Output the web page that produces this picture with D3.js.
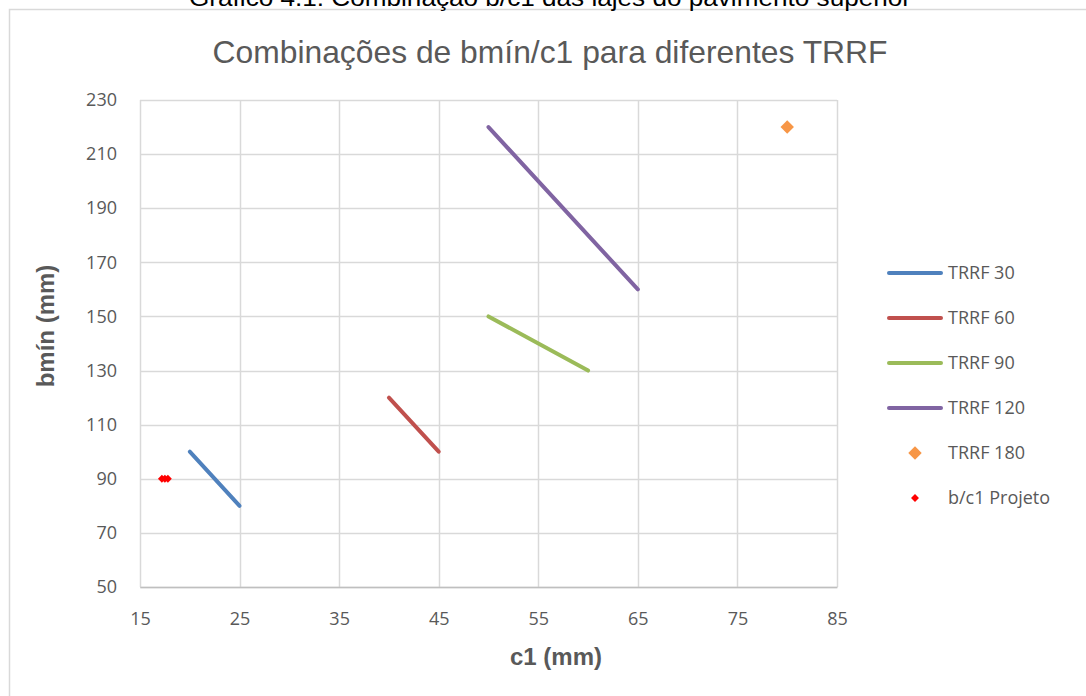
<!DOCTYPE html>
<html><head><meta charset="utf-8">
<script src="https://cdn.jsdelivr.net/npm/d3@7"></script>
<style>body{margin:0;background:#fff;}svg{display:block;}</style>
</head><body>
<svg id="c" width="1086" height="696"></svg>
<script>
const xTicks = [15,25,35,45,55,65,75,85];
const yTicks = [50,70,90,110,130,150,170,190,210,230];
const lineSeries = [
  {name:"TRRF 30", color:"#4f81bd", pts:[[20,100],[25,80]]},
  {name:"TRRF 60", color:"#c0504d", pts:[[40,120],[45,100]]},
  {name:"TRRF 90", color:"#9bbb59", pts:[[50,150],[60,130]]},
  {name:"TRRF 120", color:"#8064a2", pts:[[50,220],[65,160]]}
];
const trrf180 = [[80,220]];
const projeto = [[17.2,90],[17.5,90],[17.8,90]];
const legendNames = ["TRRF 30","TRRF 60","TRRF 90","TRRF 120","TRRF 180","b/c1 Projeto"];

const svg = d3.select("#c");
const grey = "#595959";
// outer chart border
svg.append("rect").attr("x",9.5).attr("y",9.5).attr("width",1100).attr("height",700)
  .attr("fill","#fff").attr("stroke","#d9d9d9").attr("stroke-width",1.5);
// caption (cut off at top)
svg.append("text").attr("x",550).attr("y",6).attr("text-anchor","middle")
  .attr("font-family","Liberation Sans, Arial").attr("font-size",24).attr("fill","#000")
  .attr("textLength",722).attr("lengthAdjust","spacingAndGlyphs")
  .text("Gráfico 4.1: Combinação b/c1 das lajes do pavimento superior");

const x = d3.scaleLinear().domain([15,85]).range([140,837]);
const y = d3.scaleLinear().domain([50,230]).range([587,100]);

// gridlines
svg.append("g").selectAll("line").data(yTicks).join("line")
  .attr("x1",x(15)).attr("x2",x(85)).attr("y1",d=>Math.round(y(d))+0.5).attr("y2",d=>Math.round(y(d))+0.5)
  .attr("stroke","#d9d9d9").attr("stroke-width",1.5);
svg.append("g").selectAll("line").data(xTicks).join("line")
  .attr("y1",y(50)).attr("y2",y(230)).attr("x1",d=>Math.round(x(d))+0.5).attr("x2",d=>Math.round(x(d))+0.5)
  .attr("stroke","#d9d9d9").attr("stroke-width",1.5);

// axes labels
const xAxis = d3.axisBottom(x).tickValues(xTicks).tickSize(0).tickPadding(25);
const gx = svg.append("g").attr("transform",`translate(0,${y(50)})`).call(xAxis);
gx.select(".domain").attr("stroke","#bfbfbf").attr("stroke-width",1.5);
gx.selectAll("text").attr("font-family","Open Sans, Liberation Sans").attr("font-size",18).attr("fill",grey);
const yAxis = d3.axisLeft(y).tickValues(yTicks).tickSize(0).tickPadding(23);
const gy = svg.append("g").attr("transform",`translate(${x(15)},0)`).call(yAxis);
gy.select(".domain").remove();
gy.selectAll("text").attr("font-family","Open Sans, Liberation Sans").attr("font-size",18).attr("fill",grey);

// lines
const line = d3.line().x(d=>x(d[0])).y(d=>y(d[1]));
svg.append("g").selectAll("path").data(lineSeries).join("path")
  .attr("d",d=>line(d.pts)).attr("stroke",d=>d.color).attr("stroke-width",4)
  .attr("stroke-linecap","round").attr("fill","none");
// points
const bigDiamond = d3.symbol().type(d3.symbolDiamond2).size(115)();
const smallDiamond = d3.symbol().type(d3.symbolDiamond2).size(40)();
svg.append("g").selectAll("path").data(trrf180).join("path")
  .attr("transform",d=>`translate(${x(d[0])},${y(d[1])})`)
  .attr("d",bigDiamond).attr("fill","#f79646");
svg.append("g").selectAll("path").data(projeto).join("path")
  .attr("transform",d=>`translate(${x(d[0])},${y(d[1])})`)
  .attr("d",smallDiamond).attr("fill","#ff0000");

// titles
svg.append("text").attr("x",550).attr("y",63).attr("text-anchor","middle")
  .attr("font-family","Liberation Sans, Arial").attr("font-size",32).attr("fill",grey)
  .attr("textLength",675).attr("lengthAdjust","spacingAndGlyphs")
  .text("Combinações de bmín/c1 para diferentes TRRF");
svg.append("text").attr("x",556).attr("y",665).attr("text-anchor","middle")
  .attr("font-family","Liberation Sans, Arial").attr("font-weight","bold").attr("font-size",24).attr("fill",grey)
  .text("c1 (mm)");
svg.append("text").attr("transform","translate(54,326) rotate(-90)").attr("text-anchor","middle")
  .attr("font-family","Liberation Sans, Arial").attr("font-weight","bold").attr("font-size",24).attr("fill",grey)
  .text("bmín (mm)");

// legend
const legY = d3.scalePoint().domain(legendNames).range([273,498]);
const lg = svg.append("g");
lineSeries.forEach(s=>{
  lg.append("line").attr("x1",889).attr("x2",941).attr("y1",legY(s.name)).attr("y2",legY(s.name))
    .attr("stroke",s.color).attr("stroke-width",4).attr("stroke-linecap","round");
});
lg.append("path").attr("transform",`translate(915,${legY("TRRF 180")})`).attr("d",bigDiamond).attr("fill","#f79646");
lg.append("path").attr("transform",`translate(915,${legY("b/c1 Projeto")})`).attr("d",smallDiamond).attr("fill","#ff0000");
lg.selectAll("text").data(legendNames).join("text")
  .attr("x",948).attr("y",d=>legY(d)+6).attr("font-family","Open Sans, Liberation Sans")
  .attr("font-size",18).attr("fill",grey).text(d=>d);
</script>
</body></html>
